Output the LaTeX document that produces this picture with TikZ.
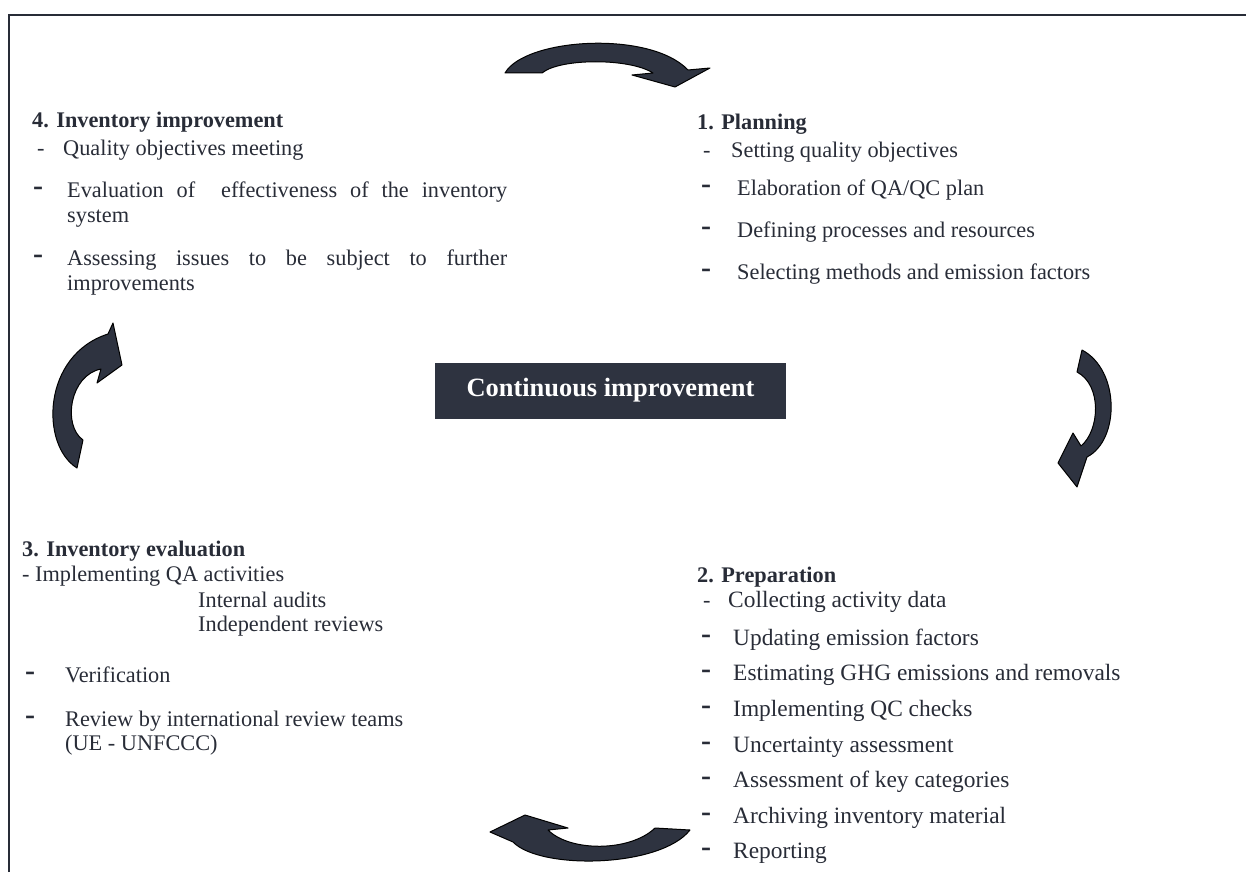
\documentclass[tikz,border=0pt]{standalone}
\usepackage{fontspec}
\setmainfont{Liberation Serif}
\definecolor{ink}{RGB}{40,44,55}
\definecolor{slate}{RGB}{46,51,64}
\begin{document}
\begin{tikzpicture}[x=1pt,y=-1pt,
  txt/.style={anchor=base west, inner sep=0pt, text=ink, font=\fontsize{22.3}{26}\selectfont},
  txtb/.style={anchor=base west, inner sep=0pt, text=ink, font={\fontsize{23.4}{26}\selectfont}},
  hd/.style={txt, font=\fontsize{22.3}{26}\selectfont\bfseries},
  thin/.style={txt},
  bold/.style={txt, font=\fontsize{30}{30}\selectfont\bfseries},
  curarrow/.style={fill=slate, draw=black, line width=1pt, line join=round}]
\useasboundingbox (0,0) rectangle (1246,872);
% frame
\draw[line width=1.4pt, ink] (9,872) -- (9,15) -- (1246,15);

% top-left block
\node[hd] (h4) at (32,128) {4. Inventory improvement};
\node[thin] (d41) at (37,155) {-};
\node[txt] (t41) at (63,155) {Quality objectives meeting};
\node[bold] (d42) at (33,197) {\raisebox{1.5pt}{-}};
\node[txt] (t42) at (67,197) {\makebox[440pt][s]{Evaluation of\ \ effectiveness of the inventory}};
\node[txt] (t42b) at (67,222) {system};
\node[bold] (d43) at (33,265) {\raisebox{1.5pt}{-}};
\node[txt] (t43) at (67,265) {\makebox[440pt][s]{Assessing issues to be subject to further}};
\node[txt] (t43b) at (67,290) {improvements};

% top-right block
\node[hd] (h1) at (697,129) {1. Planning};
\node[thin] (d11) at (703,157) {-};
\node[txt] (t11) at (731,157) {Setting quality objectives};
\node[bold] (d12) at (701,195) {\raisebox{1.5pt}{-}};
\node[txt] (t12) at (737,195) {Elaboration of QA/QC plan};
\node[bold] (d13) at (701,237) {\raisebox{1.5pt}{-}};
\node[txt] (t13) at (737,237) {Defining processes and resources};
\node[bold] (d14) at (701,279) {\raisebox{1.5pt}{-}};
\node[txt] (t14) at (737,279) {Selecting methods and emission factors};

% center box
\node[fill=slate, minimum width=351pt, minimum height=56pt, inner sep=0pt,
      text=white, font=\fontsize{26.4}{30}\selectfont\bfseries] (ci) at (610.5,390.5) {Continuous improvement};

% bottom-left block
\node[hd] (h3) at (22,556) {3. Inventory evaluation};
\node[txt] (t31) at (22,581) {- Implementing QA activities};
\node[txt] (t31a) at (198,607) {Internal audits};
\node[txt] (t31b) at (198,631) {Independent reviews};
\node[bold] (d32) at (25,682) {\raisebox{1.5pt}{-}};
\node[txt] (t32) at (65,682) {Verification};
\node[bold] (d33) at (25,726) {\raisebox{1.5pt}{-}};
\node[txt] (t33) at (65,726) {Review by international review teams};
\node[txt] (t33b) at (65,750) {(UE - UNFCCC)};

% bottom-right block
\node[hd] (h2) at (697,582) {2. Preparation};
\node[thin] (d21) at (703,607) {-};
\node[txtb] (t21) at (728,607) {Collecting activity data};
\node[bold] (d22) at (701,645) {\raisebox{1.5pt}{-}};
\node[txtb] (t22) at (733,645) {Updating emission factors};
\node[bold] (d23) at (701,680) {\raisebox{1.5pt}{-}};
\node[txtb] (t23) at (733,680) {Estimating GHG emissions and removals};
\node[bold] (d24) at (701,716) {\raisebox{1.5pt}{-}};
\node[txtb] (t24) at (733,716) {Implementing QC checks};
\node[bold] (d25) at (701,752) {\raisebox{1.5pt}{-}};
\node[txtb] (t25) at (733,752) {Uncertainty assessment};
\node[bold] (d26) at (701,787) {\raisebox{1.5pt}{-}};
\node[txtb] (t26) at (733,787) {Assessment of key categories};
\node[bold] (d27) at (701,823) {\raisebox{1.5pt}{-}};
\node[txtb] (t27) at (733,823) {Archiving inventory material};
\node[bold] (d28) at (701,858) {\raisebox{1.5pt}{-}};
\node[txtb] (t28) at (733,858) {Reporting};

% curved arrows
\path[curarrow] (505,73) .. controls (525,38) and (650,30) .. (688,70)
  -- (710,68) -- (675,87) -- (632,75) -- (653,73)
  .. controls (630,58) and (560,58) .. (542,73) -- cycle;
\path[curarrow] (1082,350) .. controls (1120,370) and (1120,440) .. (1087,457)
  -- (1077,487) -- (1058,463) -- (1073,433) -- (1081,446)
  .. controls (1100,430) and (1102,385) .. (1077,372) -- cycle;
\path[curarrow] (77,468) .. controls (40,445) and (42,355) .. (108,334)
  -- (113,323) -- (122,365) -- (97,383) -- (101,369)
  .. controls (70,375) and (62,425) .. (83,440) -- cycle;
\path[curarrow] (690,830) .. controls (660,868) and (540,870) .. (513,842)
  -- (490,832) -- (525,815) -- (568,828) -- (548,830)
  .. controls (570,852) and (630,852) .. (655,828) -- cycle;
\end{tikzpicture}
\end{document}
